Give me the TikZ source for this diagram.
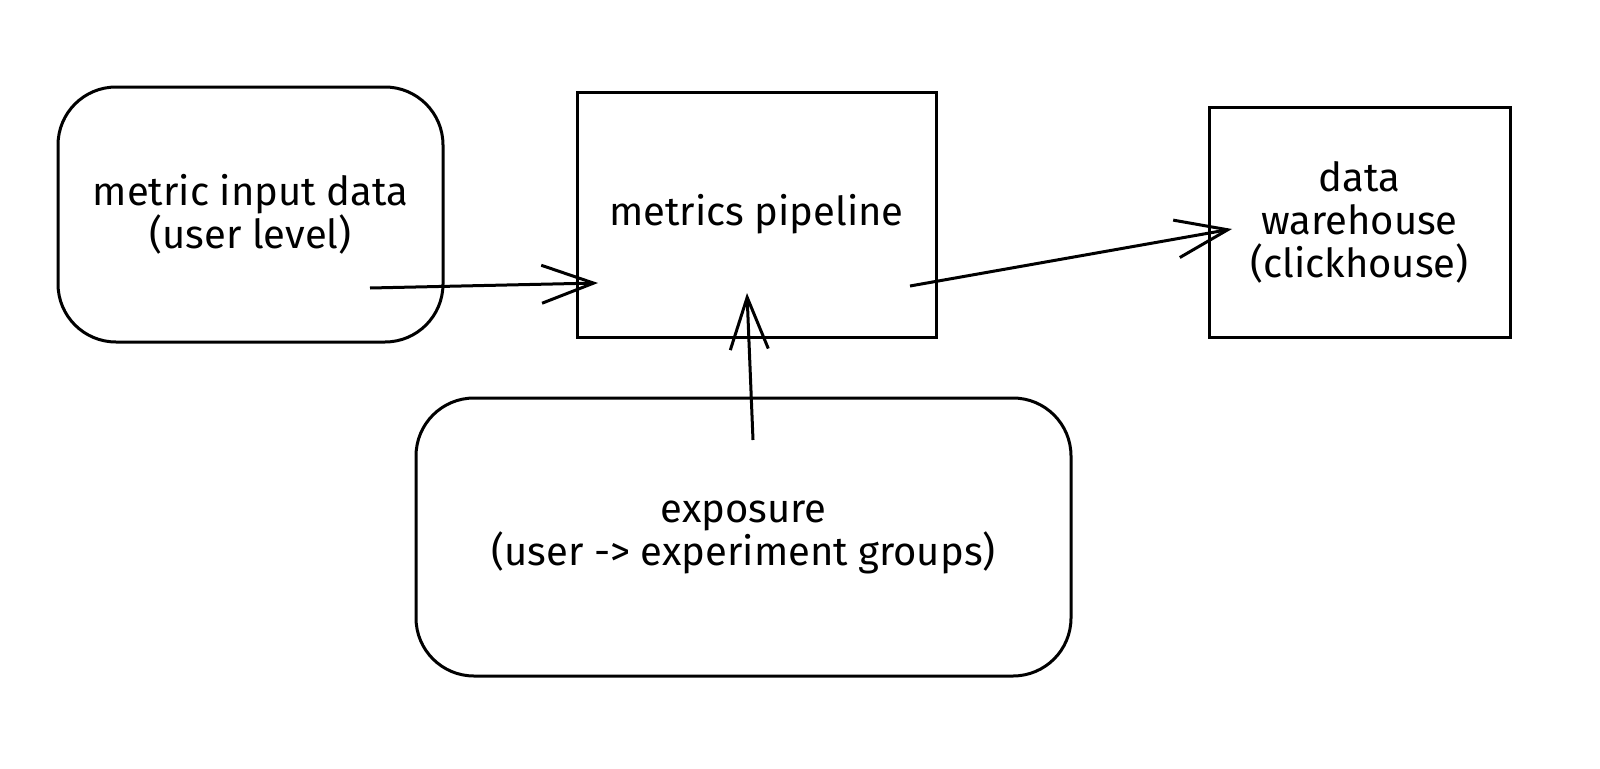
\documentclass[tikz,border=0pt]{standalone}
\usepackage{fontspec}
\setmainfont{Fira Sans}
\usetikzlibrary{arrows.meta}

\tikzset{
  sketch/.style={draw=black, line width=3pt, align=center,
    font=\fontsize{40}{43}\selectfont, inner sep=0pt},
  roundbox/.style={sketch, rounded corners=58pt},
  flow/.style={line width=3pt, -{Straight Barb[length=52pt, width=38pt, line width=3pt]}},
}

\begin{document}
\begin{tikzpicture}[x=1pt, y=-1pt]
  \useasboundingbox (0,0) rectangle (1600,768);
  % boxes
  \node[roundbox, minimum width=385pt, minimum height=255pt] (input) at (250.5,214.5)
    {metric input data\\(user level)};
  \node[sketch, minimum width=359pt, minimum height=245pt] (pipeline) at (756.5,214.5)
    {metrics pipeline};
  \node[sketch, minimum width=301pt, minimum height=230pt] (warehouse) at (1359.5,222)
    {data\\warehouse\\(clickhouse)};
  \node[roundbox, minimum width=655pt, minimum height=278pt] (exposure) at (743.5,537)
    {exposure\\(user -> experiment groups)};
  % arrow ends
  \coordinate (inputout) at (370,288);
  \coordinate (pipein) at (598,283);
  \coordinate (pipeout) at (910,286);
  \coordinate (warein) at (1232,229);
  \coordinate (expout) at (753,440);
  \coordinate (pipebot) at (747,293);
  % arrows
  \draw[flow] (inputout) -- (pipein);
  \draw[flow] (pipeout) -- (warein);
  \draw[flow] (expout) -- (pipebot);
\end{tikzpicture}
\end{document}
